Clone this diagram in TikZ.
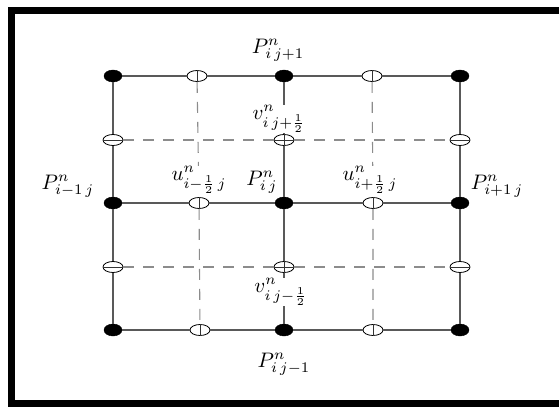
\documentclass[tikz,border=0pt]{standalone}
\usepackage{graphicx}
\usetikzlibrary{shapes.geometric}
\newcommand{\biglab}[1]{\scalebox{2.1}{$#1$}}
\begin{document}
\begin{tikzpicture}[x=1pt,y=-1pt,
  dotnode/.style={ellipse,fill=black,draw=black,minimum width=18pt,minimum height=12pt,inner sep=0pt},
  opennode/.style={ellipse,fill=white,draw=black,line width=0.8pt,minimum width=20pt,minimum height=11pt,inner sep=0pt},
  gridline/.style={draw=black!65,line width=1.1pt},
  dashline/.style={draw=black!45,line width=1.1pt,dash pattern=on 11pt off 9pt},
  tickline/.style={draw=black!80,line width=0.7pt},
  lab/.style={inner sep=0pt,fill=white}]
\useasboundingbox (0,0) rectangle (559,408);
\clip (0,0) rectangle (559,408);
\draw[line width=7pt] (11.5,10.5) rectangle (575,403.5);
% filled points
\node[dotnode] (a1) at (113,76) {};
\node[dotnode] (a2) at (284,76) {};
\node[dotnode] (a3) at (460,76) {};
\node[dotnode] (b1) at (113,203) {};
\node[dotnode] (b2) at (284,203) {};
\node[dotnode] (b3) at (460,203) {};
\node[dotnode] (c1) at (113,330) {};
\node[dotnode] (c2) at (284,330) {};
\node[dotnode] (c3) at (460,330) {};
% open points
\node[opennode] (ua1) at (197,76) {};
\node[opennode] (ua2) at (372,76) {};
\node[opennode] (ub1) at (199,203) {};
\node[opennode] (ub2) at (373,203) {};
\node[opennode] (uc1) at (200,330) {};
\node[opennode] (uc2) at (373,330) {};
\node[opennode] (v11) at (113,140) {};
\node[opennode] (v12) at (284,140) {};
\node[opennode] (v13) at (460,140) {};
\node[opennode] (v21) at (113,267) {};
\node[opennode] (v22) at (284,267) {};
\node[opennode] (v23) at (460,267) {};
% solid lines
\draw[gridline] (a1) -- (ua1) (ua1) -- (a2) (a2) -- (ua2) (ua2) -- (a3);
\draw[gridline] (b1) -- (ub1) (ub1) -- (b2) (b2) -- (ub2) (ub2) -- (b3);
\draw[gridline] (c1) -- (uc1) (uc1) -- (c2) (c2) -- (uc2) (uc2) -- (c3);
\draw[gridline] (a1) -- (v11) (v11) -- (b1) (b1) -- (v21) (v21) -- (c1);
\draw[gridline] (a2) -- (v12) (v12) -- (b2) (b2) -- (v22) (v22) -- (c2);
\draw[gridline] (a3) -- (v13) (v13) -- (b3) (b3) -- (v23) (v23) -- (c3);
% dashed lines
\draw[dashline] (v11) -- (v12) (v12) -- (v13);
\draw[dashline] (v21) -- (v22) (v22) -- (v23);
\draw[dashline] (ua1) -- (ub1) (ub1) -- (uc1);
\draw[dashline] (ua2) -- (ub2) (ub2) -- (uc2);
% ticks inside open points
\foreach \n in {ua1,ua2,ub1,ub2,uc1,uc2,v12,v22}{\draw[tickline] (\n.north) -- (\n.south);}
\foreach \n in {v11,v12,v13,v21,v22,v23}{\draw[tickline] (\n.west) -- (\n.east);}
% labels
\node[lab] (lp1) at (278,50) {\biglab{P^{n}_{i\,j+1}}};
\node[lab] (lv1) at (279,119) {\biglab{v^{n}_{i\,j+\frac12}}};
\node[lab] (lp2) at (68,186) {\biglab{P^{n}_{i-1\,j}}};
\node[lab] (lu1) at (199,180) {\biglab{u^{n}_{i-\frac12\,j}}};
\node[lab] (lp3) at (262,182) {\biglab{P^{n}_{i\,j}}};
\node[lab] (lu2) at (370,180) {\biglab{u^{n}_{i+\frac12\,j}}};
\node[lab] (lp4) at (497,186) {\biglab{P^{n}_{i+1\,j}}};
\node[lab] (lv2) at (281,292) {\biglab{v^{n}_{i\,j-\frac12}}};
\node[lab] (lp5) at (284,364) {\biglab{P^{n}_{i\,j-1}}};
\end{tikzpicture}
\end{document}
